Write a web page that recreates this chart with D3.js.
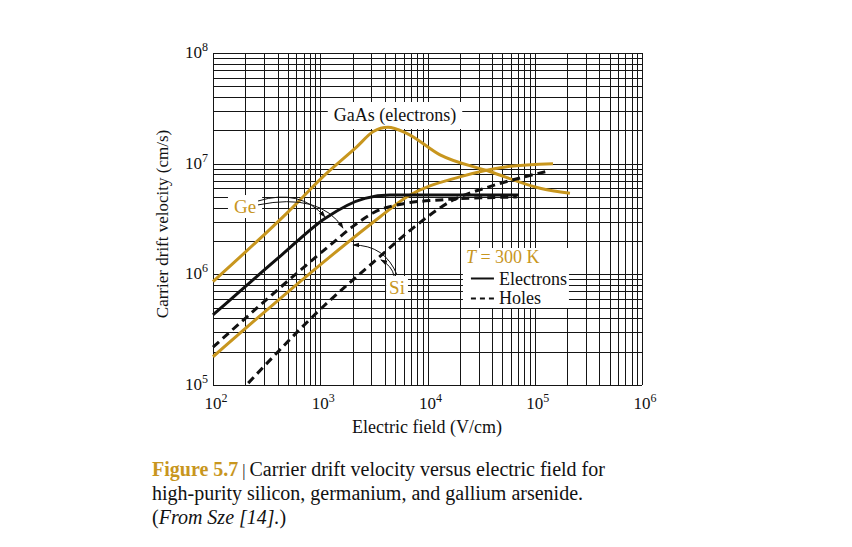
<!DOCTYPE html>
<html>
<head>
<meta charset="utf-8">
<script src="https://cdn.jsdelivr.net/npm/d3@7"></script>
<style>
  html, body { margin: 0; padding: 0; background: #fff; }
  svg { display: block; font-family: "Liberation Serif", "Times New Roman", serif; }
</style>
</head>
<body>
<svg id="chart" width="852" height="547"></svg>
<script>
// ---------------- data ----------------
// Electric field E (V/cm) and drift velocity v (cm/s)
const gaasElecE = [100, 486, 1150, 2190, 3130, 4280, 6400, 13100, 38000, 112000, 213000];
const gaasElecV = [8.6e5, 3.56e6, 8.2e6, 1.42e7, 1.95e7, 2.13e7, 1.88e7, 1.2e7, 8.5e6, 6.0e6, 5.4e6];

const siElecE = [100, 1230, 3600, 6400, 20000, 55000, 148000];
const siElecV = [1.8e5, 1.44e6, 3.3e6, 5.0e6, 7.6e6, 9.4e6, 1.0e7];

const siHoleE = [213, 995, 3600, 6900, 17400, 38000, 129000];
const siHoleV = [1.04e5, 4.8e5, 1.45e6, 2.5e6, 4.7e6, 6.2e6, 8.5e6];

const geElecE = [100, 438, 1107, 2610, 4470, 70000];
const geElecV = [4.3e5, 1.5e6, 3.2e6, 4.86e6, 5.2e6, 5.2e6];

const geHoleE = [100, 1190, 2110, 3130, 6400, 13100, 68000];
const geHoleV = [2.2e5, 1.78e6, 2.8e6, 3.6e6, 4.4e6, 4.7e6, 5.0e6];

const xTickExps = [2, 3, 4, 5, 6];
const yTickExps = [5, 6, 7, 8];

// annotation anchors (data coordinates): [start, control, end]
const geArrows = [
  [[263, 4.6e6], [647, 6.0e6], [1107, 3.3e6]],
  [[263, 4.24e6], [995, 5.5e6], [1630, 2.62e6]]
];
const siArrows = [
  [[5200, 9.86e5], [4020, 1.84e6], [2020, 1.84e6]],
  [[4880, 9.66e5], [4670, 1.19e6], [3680, 1.35e6]]
];
const gaasLabelAt = [4980, 2.43e7];
const geLabelAt = [199, 3.58e6];
const siLabelAt = [5200, 6.64e5];
const legendAt = [21400, 1.73e6];

const captionLine1Bold = "Figure 5.7";
const captionLine1 = "Carrier drift velocity versus electric field for";
const captionLine2 = "high-purity silicon, germanium, and gallium arsenide.";
const captionLine3Italic = "From Sze [14].";

// ---------------- drawing ----------------
const GOLD = "#c8961e";
const svg = d3.select("#chart");

const x = d3.scaleLog().domain([1e2, 1e6]).range([213, 642]);
const y = d3.scaleLog().domain([1e5, 1e8]).range([385, 53]);

const zip = (E, V) => E.map((e, i) => [e, V[i]]);

// grid
const grid = svg.append("g").attr("shape-rendering", "crispEdges")
  .attr("stroke", "#151515").attr("stroke-width", 1);
grid.selectAll("line.vx").data(x.ticks()).join("line")
  .attr("x1", d => Math.round(x(d)) + 0.5).attr("x2", d => Math.round(x(d)) + 0.5)
  .attr("y1", y(1e8)).attr("y2", y(1e5));
grid.selectAll("line.hy").data(y.ticks()).join("line")
  .attr("y1", d => Math.round(y(d)) + 0.5).attr("y2", d => Math.round(y(d)) + 0.5)
  .attr("x1", x(1e2)).attr("x2", x(1e6));

// white label boxes (drawn over grid)
const boxLayer = svg.append("g");
const textLayer = svg.append("g");

function addBoxedText(at, str, color, size, padX, padY) {
  const t = textLayer.append("text")
    .attr("x", x(at[0])).attr("y", y(at[1]))
    .attr("text-anchor", "middle")
    .attr("font-size", size).attr("fill", color).text(str);
  const b = t.node().getBBox();
  boxLayer.append("rect")
    .attr("x", b.x - padX).attr("y", b.y - padY)
    .attr("width", b.width + 2 * padX).attr("height", b.height + 2 * padY)
    .attr("fill", "#fff");
}
addBoxedText(gaasLabelAt, "GaAs (electrons)", "#111", 18, 6, 3);
addBoxedText(geLabelAt, "Ge", GOLD, 19, 6, 1);
addBoxedText(siLabelAt, "Si", GOLD, 19, 3, 1);

// curves
const line = d3.line().x(d => x(d[0])).y(d => y(d[1])).curve(d3.curveMonotoneX);
const curves = svg.append("g").attr("fill", "none").attr("stroke-width", 3);
curves.append("path").attr("d", line(zip(gaasElecE, gaasElecV))).attr("stroke", GOLD);
curves.append("path").attr("d", line(zip(siElecE, siElecV))).attr("stroke", GOLD);
curves.append("path").attr("d", line(zip(geElecE, geElecV))).attr("stroke", "#111");
curves.append("path").attr("d", line(zip(geHoleE, geHoleV))).attr("stroke", "#111")
  .attr("stroke-dasharray", "8,5");
curves.append("path").attr("d", line(zip(siHoleE, siHoleV))).attr("stroke", "#111")
  .attr("stroke-dasharray", "8,5");

// arrows
svg.append("defs").append("marker").attr("id", "ah")
  .attr("viewBox", "0 0 10 10").attr("refX", 9).attr("refY", 5)
  .attr("markerWidth", 7).attr("markerHeight", 7).attr("orient", "auto")
  .append("path").attr("d", "M0,1.5 L10,5 L0,8.5 Z").attr("fill", "#111");
const arrowG = svg.append("g").attr("fill", "none").attr("stroke", "#111").attr("stroke-width", 1);
[...geArrows, ...siArrows].forEach(a => {
  const p = d3.path();
  p.moveTo(x(a[0][0]), y(a[0][1]));
  p.quadraticCurveTo(x(a[1][0]), y(a[1][1]), x(a[2][0]), y(a[2][1]));
  arrowG.append("path").attr("d", p.toString()).attr("marker-end", "url(#ah)");
});

// legend
const lx = x(legendAt[0]), ly = y(legendAt[1]);
const leg = svg.append("g").attr("transform", `translate(${lx},${ly})`);
leg.append("rect").attr("x", 0).attr("y", 0).attr("width", 106).attr("height", 60).attr("fill", "#fff");
const tl = leg.append("text").attr("x", 3).attr("y", 15).attr("font-size", 18).attr("fill", GOLD);
tl.append("tspan").attr("font-style", "italic").text("T");
tl.append("tspan").text(" = 300 K");
leg.append("line").attr("x1", 8).attr("x2", 31).attr("y1", 30.5).attr("y2", 30.5)
  .attr("stroke", "#111").attr("stroke-width", 2);
leg.append("text").attr("x", 36).attr("y", 37).attr("font-size", 18).attr("fill", "#111").text("Electrons");
leg.append("line").attr("x1", 8).attr("x2", 32).attr("y1", 50.5).attr("y2", 50.5)
  .attr("stroke", "#111").attr("stroke-width", 2).attr("stroke-dasharray", "5,4");
leg.append("text").attr("x", 36).attr("y", 56).attr("font-size", 18).attr("fill", "#111").text("Holes");

// tick labels
const xt = svg.append("g").attr("font-size", 17).attr("fill", "#111");
xTickExps.forEach(e => {
  const t = xt.append("text").attr("x", x(Math.pow(10, e)) + 3).attr("y", 409).attr("text-anchor", "middle");
  t.append("tspan").text("10");
  t.append("tspan").attr("font-size", 12).attr("dy", -7).text(e);
});
yTickExps.forEach(e => {
  const t = xt.append("text").attr("x", x(1e2) - 5).attr("y", y(Math.pow(10, e)) + 5).attr("text-anchor", "end");
  t.append("tspan").text("10");
  t.append("tspan").attr("font-size", 12).attr("dy", -7).text(e);
});

// axis titles
svg.append("text").attr("x", 427).attr("y", 433).attr("text-anchor", "middle")
  .attr("font-size", 18).attr("fill", "#111").text("Electric field (V/cm)");
svg.append("text").attr("transform", "translate(168,224) rotate(-90)").attr("text-anchor", "middle")
  .attr("font-size", 17).attr("fill", "#111").text("Carrier drift velocity (cm/s)");

// caption
const cap = svg.append("g").attr("font-size", 20).attr("fill", "#111");
const c1 = cap.append("text").attr("x", 152).attr("y", 476);
c1.append("tspan").attr("font-weight", "bold").attr("fill", GOLD).text(captionLine1Bold);
c1.append("tspan").text(" | ").attr("font-size", 16);
c1.append("tspan").text(captionLine1);
cap.append("text").attr("x", 152).attr("y", 500).text(captionLine2);
const c3 = cap.append("text").attr("x", 152).attr("y", 524);
c3.append("tspan").text("(");
c3.append("tspan").attr("font-style", "italic").text(captionLine3Italic);
c3.append("tspan").text(")");
</script>
</body>
</html>
